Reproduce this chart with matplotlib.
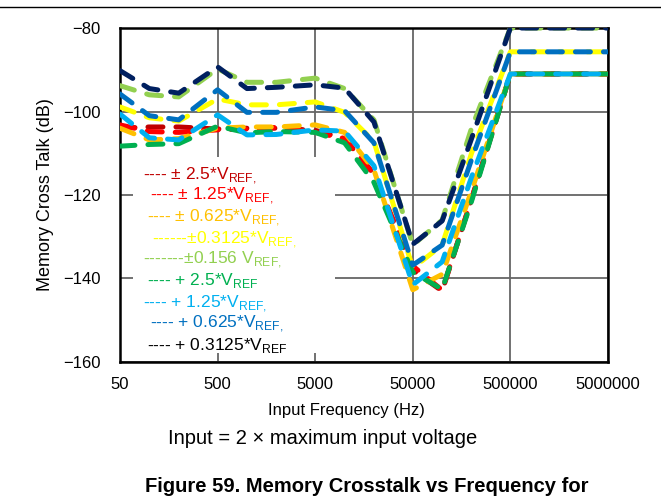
import matplotlib.pyplot as plt
from matplotlib.patches import Rectangle
from matplotlib.lines import Line2D

plt.rcParams["font.family"] = ["Liberation Sans", "DejaVu Sans"]
plt.rcParams["mathtext.fontset"] = "custom"
plt.rcParams["mathtext.rm"] = "Liberation Sans"

# input frequency (Hz)
freq = [50, 100, 200, 500, 1000, 2000, 5000, 10000, 20000, 50000,
        100000, 200000, 500000, 1000000, 2000000, 5000000]

# crosstalk (dB) per range
pm_2p5 = [-104.0, -103.7, -103.7, -104.2, -104.0, -104.0, -104.5, -106.5, -115.0, -138.0,
          -143.0, -121.0, -91.0, -91.0, -91.0, -91.0]
pm_1p25 = [-103.2, -104.8, -105.0, -104.4, -104.2, -103.8, -105.0, -106.5, -115.0, -137.0,
           -142.8, -121.0, -91.0, -91.0, -91.0, -91.0]
pm_0p625 = [-104.0, -106.8, -106.5, -104.0, -103.7, -103.7, -103.2, -105.0, -114.0, -142.7,
            -139.0, -119.0, -91.0, -91.0, -91.0, -91.0]
pm_0p3125 = [-98.9, -101.5, -102.3, -97.0, -98.4, -98.4, -97.7, -100.2, -107.2, -137.5,
             -132.0, -110.0, -85.7, -85.7, -85.7, -85.7]
pm_0p156 = [-93.8, -96.0, -96.5, -89.8, -93.0, -93.0, -92.0, -94.5, -102.0, -132.0,
            -126.0, -104.0, -80.0, -80.0, -80.0, -80.0]
p_2p5 = [-108.3, -107.9, -107.7, -103.5, -105.1, -104.8, -105.0, -107.5, -117.0, -138.5,
         -142.6, -121.5, -91.0, -91.0, -91.0, -91.0]
p_1p25 = [-100.6, -106.3, -106.8, -100.8, -105.6, -105.5, -104.4, -104.7, -113.0, -141.5,
          -136.0, -115.7, -91.0, -91.0, -91.0, -91.0]
p_0p625 = [-95.8, -101.0, -102.0, -94.8, -100.2, -100.2, -98.9, -99.8, -107.5, -136.8,
           -132.0, -111.5, -85.7, -85.7, -85.7, -85.7]
p_0p3125 = [-90.2, -94.5, -95.6, -89.3, -94.5, -94.2, -93.6, -94.4, -102.5, -131.8,
            -126.2, -106.5, -80.0, -80.0, -80.0, -80.0]

series = [pm_2p5, pm_1p25, pm_0p625, pm_0p3125, pm_0p156, p_2p5, p_1p25, p_0p625, p_0p3125]
colors = ["#C00000", "#FF0000", "#FFC000", "#FFFF00", "#92D050",
          "#00B050", "#00B0F0", "#0070C0", "#002060"]

labels = [
    r"---- ± 2.5*V$_\mathregular{REF,}$",
    r"---- ± 1.25*V$_\mathregular{REF,}$",
    r"---- ± 0.625*V$_\mathregular{REF,}$",
    r"------±0.3125*V$_\mathregular{REF,}$",
    r"-------±0.156 V$_\mathregular{REF,}$",
    r"---- + 2.5*V$_\mathregular{REF}$",
    r"---- + 1.25*V$_\mathregular{REF,}$",
    r"---- + 0.625*V$_\mathregular{REF,}$",
    r"---- + 0.3125*V$_\mathregular{REF}$",
]
label_colors = ["#C00000", "#FF0000", "#FFC000", "#FFFF00", "#92D050",
                "#00B050", "#00B0F0", "#0070C0", "#000000"]

fig = plt.figure(figsize=(6.61, 4.96), dpi=100)
ax = fig.add_axes([0.1815, 0.2702, 0.7383, 0.6733])

for vals, c in zip(series, colors):
    ax.plot(freq, vals, color=c, lw=3.6, dashes=(3, 2.6),
            dash_capstyle="round", solid_capstyle="round", zorder=3)

ax.set_xscale("log")
ax.set_xlim(50, 5000000)
ax.set_ylim(-160, -80)
ax.set_xticks([50, 500, 5000, 50000, 500000, 5000000])
ax.set_xticklabels(["50", "500", "5000", "50000", "500000", "5000000"])
ax.minorticks_off()
ax.set_yticks([-160, -140, -120, -100, -80])
ax.tick_params(axis="x", length=0, pad=11, labelsize=12)
ax.tick_params(axis="y", length=0, pad=14, labelsize=12)
ax.grid(True, color="#666666", lw=1.3)
ax.set_axisbelow(True)
for s in ax.spines.values():
    s.set_linewidth(1.8)
    s.set_color("black")

# white box behind the text legend
ax.add_patch(Rectangle((0.027, 0.027), 0.413, 0.587, transform=ax.transAxes,
                       facecolor="white", edgecolor="none", zorder=1.5))

W, H = 661, 496
lx = [143, 150, 147, 152, 143, 147, 143, 150, 147]
ly = [180, 200, 222, 243, 264, 285, 307, 328, 350]
for t, c, x, y in zip(labels, label_colors, lx, ly):
    fig.text(x / W, 1 - y / H, t, color=c, fontsize=12.5, va="baseline", ha="left")

fig.text(46 / W, 1 - 195 / H, "Memory Cross Talk (dB)", rotation=90,
         fontsize=13, ha="center", va="center")
fig.text(346 / W, 1 - 410 / H, "Input Frequency (Hz)", fontsize=12,
         ha="center", va="center")
fig.text(323 / W, 1 - 438 / H, "Input = 2 × maximum input voltage", fontsize=14.5,
         ha="center", va="center")
fig.text(367 / W, 1 - 487 / H, "Figure 59. Memory Crosstalk vs Frequency for",
         fontsize=14.5, fontweight="bold", ha="center", va="center")

fig.add_artist(Line2D([0, 1], [1 - 7 / H, 1 - 7 / H], transform=fig.transFigure,
                      color="black", lw=1))

fig.savefig("out.png", dpi=100)
